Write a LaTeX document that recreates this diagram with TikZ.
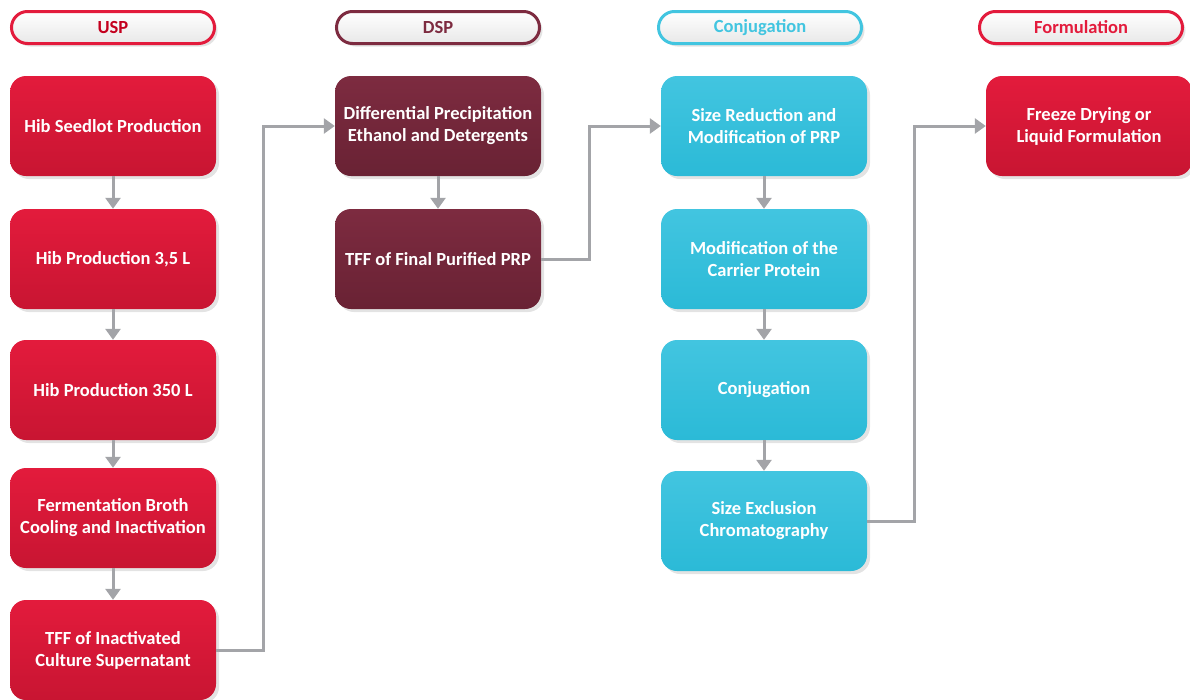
\documentclass[tikz,border=0pt]{standalone}
\usepackage{fontspec}
\setmainfont{Carlito}
\usetikzlibrary{arrows.meta,shadows}

\definecolor{uspRed}{HTML}{E31B3C}
\definecolor{uspRedDark}{HTML}{C81532}
\definecolor{uspText}{HTML}{C4001E}
\definecolor{dspRed}{HTML}{7D2B40}
\definecolor{dspRedDark}{HTML}{692234}
\definecolor{conjBlue}{HTML}{42C5E0}
\definecolor{conjBlueDark}{HTML}{2BBAD7}
\definecolor{flowGray}{HTML}{A3A4A8}

\begin{document}
\begin{tikzpicture}[x=1pt, y=-1pt,
    stepbox/.style={rounded corners=16pt, minimum width=206pt, minimum height=100pt,
        inner sep=2pt, align=center, text=white,
        font=\bfseries\fontsize{18.5}{22}\selectfont,
        drop shadow={opacity=0.22, shadow xshift=3pt, shadow yshift=-3pt}},
    uspbox/.style={stepbox, top color=uspRed, bottom color=uspRedDark},
    dspbox/.style={stepbox, top color=dspRed, bottom color=dspRedDark},
    conjbox/.style={stepbox, top color=conjBlue, bottom color=conjBlueDark},
    headbox/.style={rounded corners=16pt, minimum width=203pt, minimum height=32pt,
        line width=3pt, top color=white, bottom color=black!9,
        font=\bfseries\fontsize{18.5}{20}\selectfont,
        drop shadow={opacity=0.22, shadow xshift=3pt, shadow yshift=-3pt}},
    flow/.style={draw=flowGray, line width=3pt, -{Triangle[width=15pt,length=11pt]}}]
    \useasboundingbox (0, 0) rectangle (1190, 699);

    % column headers
    \node[headbox, draw=uspRed, text=uspText] (hUsp) at (113, 27.5) {USP};
    \node[headbox, draw=dspRed, text=dspRed] (hDsp) at (438, 27.5) {DSP};
    \node[headbox, draw=conjBlue, text=conjBlue] (hConj) at (760, 27.5) {Conjugation};
    \node[headbox, draw=uspRed, text=uspRed] (hForm) at (1081, 27.5) {Formulation};

    % USP
    \foreach \cName/\cY/\cText in {seed/126/{Hib Seedlot Production},
            prodSmall/259/{Hib Production 3,5 L},
            prodLarge/390/{Hib Production 350 L},
            ferment/518/{Fermentation Broth\\Cooling and Inactivation},
            tffInact/650/{TFF of Inactivated\\Culture Supernatant}}
        \node[uspbox] (\cName) at (113, \cY) {\cText};
    \foreach \cFrom/\cTo in {seed/prodSmall, prodSmall/prodLarge, prodLarge/ferment, ferment/tffInact}
        \draw[flow] (\cFrom.south) -- (\cTo.north);

    % DSP
    \node[dspbox] (diffPrec) at (438, 126) {Differential Precipitation\\Ethanol and Detergents};
    \node[dspbox] (tffFinal) at (438, 259) {TFF of Final Purified PRP};
    \draw[flow] (diffPrec.south) -- (tffFinal.north);

    % Conjugation
    \foreach \cName/\cY/\cText in {sizeRed/126/{Size Reduction and\\Modification of PRP},
            carrier/259/{Modification of the\\Carrier Protein},
            conj/390/{Conjugation},
            sec/521/{Size Exclusion\\Chromatography}}
        \node[conjbox] (\cName) at (764, \cY) {\cText};
    \foreach \cFrom/\cTo in {sizeRed/carrier, carrier/conj, conj/sec}
        \draw[flow] (\cFrom.south) -- (\cTo.north);

    % Formulation
    \node[uspbox] (freeze) at (1089, 126) {Freeze Drying or\\Liquid Formulation};

    % links between columns
    \draw[flow] (tffInact.east) -- ++(47, 0) |- (diffPrec.west);
    \draw[flow] (tffFinal.east) -- ++(48, 0) |- (sizeRed.west);
    \draw[flow] (sec.east) -- ++(47, 0) |- (freeze.west);
\end{tikzpicture}
\end{document}
